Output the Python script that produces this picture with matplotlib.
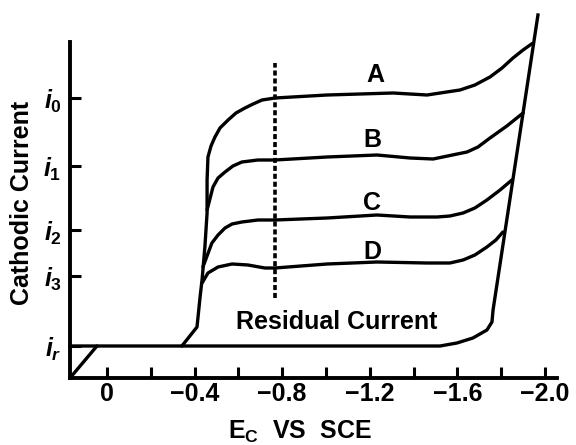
import matplotlib

matplotlib.use("Agg")
import matplotlib.pyplot as plt

plt.rcParams["font.family"] = ["Liberation Sans", "DejaVu Sans"]
plt.rcParams["font.weight"] = "bold"
plt.rcParams["mathtext.fontset"] = "custom"
plt.rcParams["mathtext.rm"] = "Liberation Sans:bold"
plt.rcParams["mathtext.it"] = "Liberation Sans:italic:bold"

# potential E (V vs SCE) and cathodic current (arbitrary units)
E_A = [-0.342, -0.411, -0.425, -0.434, -0.447, -0.457, -0.457, -0.461, -0.475, -0.493,
       -0.516, -0.553, -0.589, -0.630, -0.667, -0.708, -0.767, -1.005, -1.306, -1.461,
       -1.612, -1.680, -1.749, -1.804, -1.854, -1.900, -1.945]
I_A = [32, 51, 81, 98, 131, 165, 198, 221, 232, 241,
       250, 258, 265, 270, 274, 278, 280, 283, 285, 283,
       288, 293, 301, 310, 320, 328, 335]

E_B = [-0.457, -0.484, -0.507, -0.539, -0.575, -0.616, -0.689, -0.767, -1.005, -1.233,
       -1.384, -1.489, -1.644, -1.694, -1.749, -1.826, -1.900]
I_B = [168, 191, 200, 206, 212, 216, 218, 218, 221, 223,
       220, 219, 226, 231, 240, 252, 265]

E_C = [-0.438, -0.479, -0.507, -0.539, -0.571, -0.616, -0.689, -0.767, -1.005, -1.233,
       -1.384, -1.507, -1.566, -1.626, -1.680, -1.735, -1.795, -1.849]
I_C = [111, 135, 143, 150, 154, 156, 158, 158, 160, 163,
       161, 161, 162, 165, 170, 178, 188, 198]

E_D = [-0.434, -0.461, -0.507, -0.571, -0.644, -0.721, -0.767, -1.005, -1.233, -1.461,
       -1.566, -1.626, -1.680, -1.735, -1.776, -1.808]
I_D = [95, 105, 111, 114, 113, 110, 110, 114, 116, 115,
       115, 118, 123, 131, 138, 146]

# residual current and the final discharge wall
E_RES = [0.169, -1.521, -1.598, -1.671, -1.735, -1.758, -1.763, -1.968]
I_RES = [32, 32, 35, 40, 48, 56, 68, 363]
E_DIAG = [0.169, 0.046]
I_DIAG = [0, 32]

E_DASH = -0.767
I_DASH = (80, 315)

CURVE_LABELS = ["A", "B", "C", "D"]
LABEL_E = [-1.225, -1.210, -1.210, -1.210]
LABEL_I = [303, 238, 175, 126]

I_TICKS = [32, 102, 148, 212, 280]
I_TICK_LABELS = [r"$i_r$", r"$i_3$", r"$i_2$", r"$i_1$", r"$i_0$"]
E_TICKS = [0, -0.2, -0.4, -0.6, -0.8, -1.0, -1.2, -1.4, -1.6, -1.8, -2.0]
E_TICK_LABELS = ["0", "", "\u22120.4", "", "\u22120.8", "", "\u22121.2", "", "\u22121.6", "", "\u22122.0"]

FS = 18
LW = 2.4

fig = plt.figure(figsize=(5.76, 4.45), dpi=100)
ax = fig.add_axes([70 / 576, 67 / 445, 487 / 576, 336 / 445])

for e, i in [(E_A, I_A), (E_B, I_B), (E_C, I_C), (E_D, I_D), (E_DIAG, I_DIAG)]:
    ax.plot(e, i, color="black", lw=LW, solid_joinstyle="round", solid_capstyle="round")
ax.plot(E_RES, I_RES, color="black", lw=LW, solid_joinstyle="round", clip_on=False)
ax.plot([E_DASH, E_DASH], I_DASH, color="black", lw=2.6, dashes=(1.4, 0.8))

for lab, e, i in zip(CURVE_LABELS, LABEL_E, LABEL_I):
    ax.text(e, i, lab, fontsize=FS, ha="center", va="center")
ax.text(-1.05, 56, "Residual Current", fontsize=FS, ha="center", va="center")

ax.set_xlim(0.169, -2.055)
ax.set_ylim(0, 336)
ax.set_xticks(E_TICKS)
ax.set_xticklabels(E_TICK_LABELS)
ax.set_yticks(I_TICKS)
ax.set_yticklabels(I_TICK_LABELS)
ax.tick_params(direction="in", length=8, width=2.2, labelsize=FS, pad=3)
ax.tick_params(axis="y", pad=6)
for side in ["top", "right"]:
    ax.spines[side].set_visible(False)
for side in ["left", "bottom"]:
    ax.spines[side].set_linewidth(2.8)

fig.text(300 / 576, 1 - 432 / 445, r"$\mathrm{E_C}$  VS  SCE", fontsize=FS, ha="center", va="center")
fig.text(22 / 576, 1 - 203 / 445, "Cathodic Current", fontsize=FS, ha="center", va="center", rotation=90)

fig.savefig("out.png", dpi=100)
